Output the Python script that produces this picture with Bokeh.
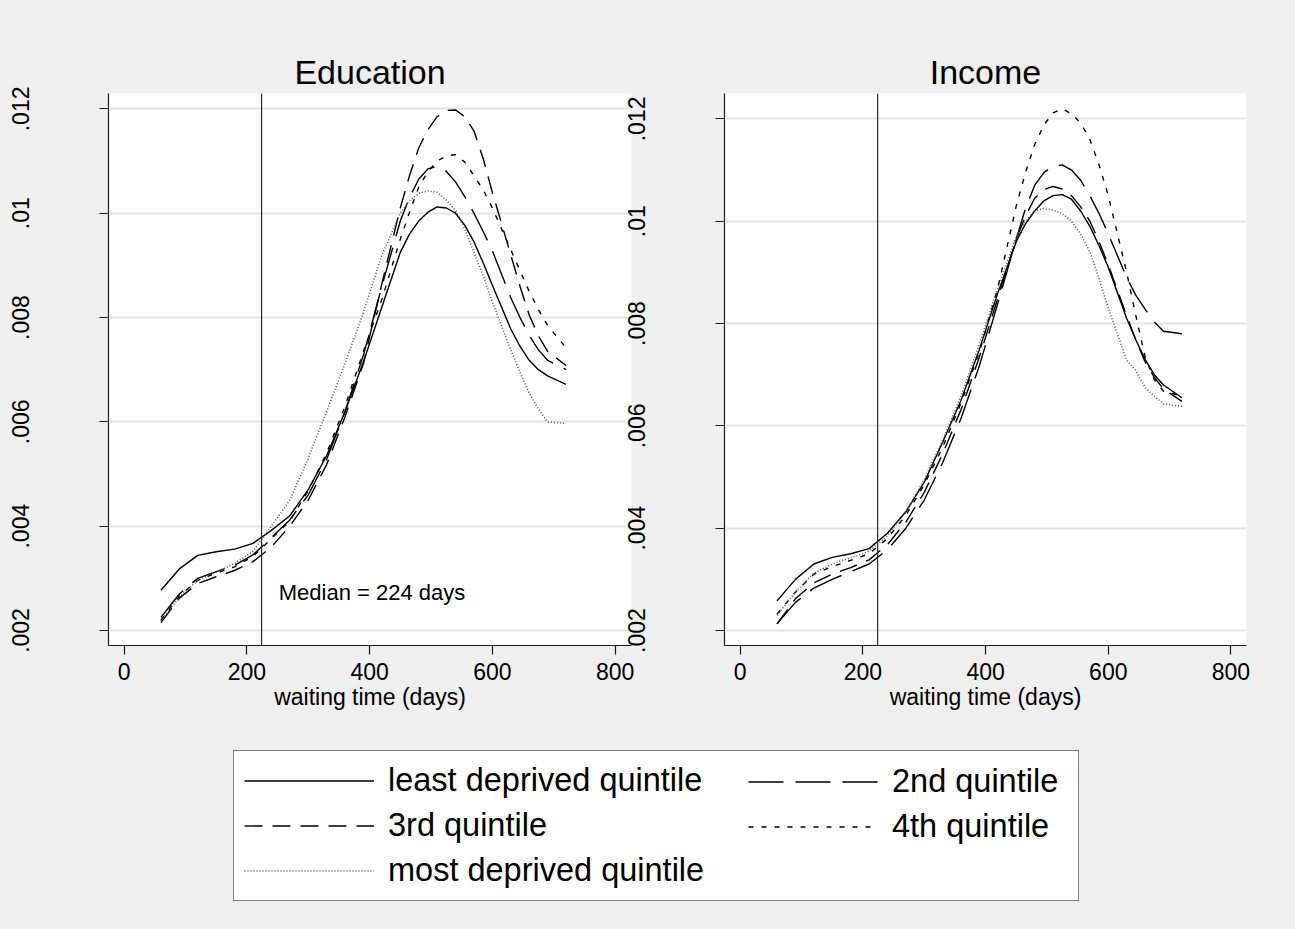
from bokeh.plotting import figure
from bokeh.models import (Range1d, FixedTicker, Span, Label, Legend, LegendItem,
                          CustomJSTickFormatter)
from bokeh.layouts import row, column
from bokeh.embed import file_html
from bokeh.resources import INLINE

# ---------------- data ----------------
days = [60, 90, 120, 150, 180, 210, 240, 270, 300, 330, 360, 390, 420, 450,
        465, 480, 495, 510, 525, 540, 555, 570, 585, 600,
        630, 645, 660, 675, 690, 720]

quintiles = ["least deprived quintile", "2nd quintile", "3rd quintile",
             "4th quintile", "most deprived quintile"]

edu_least = [.00277, .00318, .00344, .00351, .00356, .00367, .00392, .00420, .00470, .00535, .00620, .00715, .00820, .00925,
             .00960, .00985, .01002, .01012, .01010, .01000, .00977, .00945, .00905, .00862,
             .00778, .00745, .00718, .00700, .00688, .00672]
edu_2nd = [.00225, .00270, .00300, .00313, .00325, .00345, .00378, .00412, .00460, .00528, .00620, .00728, .00860, .00985,
           .01030, .01065, .01085, .01090, .01080, .01060, .01032, .01000, .00965, .00928,
           .00838, .00800, .00766, .00738, .00718, .00700]
edu_3rd = [.00215, .00262, .00290, .00303, .00315, .00332, .00360, .00400, .00450, .00518, .00610, .00712, .00865, .01010,
           .01072, .01125, .01160, .01185, .01197, .01198, .01185, .01158, .01105, .01040,
           .00920, .00860, .00805, .00765, .00735, .00708]
edu_4th = [.00220, .00266, .00296, .00310, .00322, .00342, .00376, .00410, .00468, .00540, .00630, .00735, .00835, .00950,
           .01002, .01050, .01080, .01100, .01110, .01112, .01098, .01072, .01045, .01010,
           .00930, .00890, .00850, .00815, .00785, .00742]
edu_most = [.00218, .00264, .00296, .00312, .00328, .00352, .00400, .00450, .00530, .00620, .00712, .00810, .00920, .01000,
            .01024, .01038, .01043, .01040, .01025, .01005, .00970, .00925, .00880, .00830,
            .00738, .00695, .00655, .00625, .00600, .00597]

inc_least = [.00258, .00300, .00330, .00343, .00350, .00360, .00390, .00432, .00490, .00568, .00650, .00750, .00860, .00960,
             .00995, .01020, .01040, .01050, .01052, .01043, .01020, .00990, .00952, .00910,
             .00810, .00768, .00730, .00700, .00680, .00655]
inc_2nd = [.00213, .00255, .00283, .00300, .00315, .00330, .00358, .00400, .00455, .00528, .00615, .00718, .00840, .00965,
           .01025, .01070, .01095, .01108, .01110, .01100, .01080, .01050, .01015, .00975,
           .00890, .00855, .00828, .00803, .00785, .00780]
inc_3rd = [.00213, .00262, .00293, .00310, .00323, .00338, .00368, .00412, .00470, .00545, .00632, .00735, .00850, .00965,
           .01010, .01045, .01062, .01068, .01063, .01050, .01028, .01000, .00960, .00915,
           .00815, .00768, .00725, .00695, .00672, .00648]
inc_4th = [.00232, .00275, .00310, .00325, .00337, .00350, .00380, .00425, .00485, .00558, .00645, .00745, .00870, .01030,
           .01095, .01150, .01188, .01212, .01220, .01210, .01192, .01160, .01110, .01050,
           .00900, .00815, .00735, .00690, .00668, .00658]
inc_most = [.00230, .00275, .00312, .00330, .00342, .00355, .00385, .00432, .00495, .00572, .00658, .00760, .00870, .00970,
            .01000, .01020, .01025, .01022, .01015, .01000, .00975, .00940, .00888, .00830,
            .00728, .00708, .00675, .00658, .00643, .00638]

education = [edu_least, edu_2nd, edu_3rd, edu_4th, edu_most]
income = [inc_least, inc_2nd, inc_3rd, inc_4th, inc_most]

median_days = 224
median_note = "Median = 224 days"
x_ticks = [0, 200, 400, 600, 800]
y_ticks = [0.002, 0.004, 0.006, 0.008, 0.010, 0.012]
y_tick_labels = [".002", ".004", ".006", ".008", ".01", ".012"]
x_title = "waiting time (days)"

# ---------------- style ----------------
FONT = "Liberation Sans"
BG = "#efefef"
AX = "#1a1a1a"
line_styles = [
    dict(line_color="black", line_width=1.4, line_dash="solid"),
    dict(line_color="black", line_width=1.4, line_dash="35 12"),
    dict(line_color="black", line_width=1.4, line_dash="18 10"),
    dict(line_color="black", line_width=1.4, line_dash="5 8"),
    dict(line_color="#555555", line_width=1.6, line_dash="1 2"),
]

XR1, YR1 = (-25.4, 826.7), (0.001712, 0.012295)
XR2, YR2 = (-25.6, 825.3), (0.001707, 0.012497)


def make_panel(title, series, width, b_left, b_right, xr, yr, note=False, **kw):
    p = figure(width=width, height=730, title=title,
               x_range=Range1d(*xr), y_range=Range1d(*yr),
               output_backend="svg", toolbar_location=None,
               min_border_left=b_left, min_border_right=b_right,
               min_border_top=93, min_border_bottom=85,
               background_fill_color="white", border_fill_color=BG,
               outline_line_color=None, **kw)

    p.title.text_font = FONT
    p.title.text_font_size = "34px"
    p.title.text_font_style = "normal"
    p.title.text_color = "black"
    p.title.align = "center"
    p.title.standoff = 6

    p.xgrid.visible = False
    p.ygrid.ticker = FixedTicker(ticks=y_ticks)
    p.ygrid.grid_line_color = "#e3e3e3"
    p.ygrid.grid_line_width = 2

    for ax in (p.xaxis[0], p.yaxis[0]):
        ax.axis_line_color = AX
        ax.axis_line_width = 1.2
        ax.major_tick_line_color = AX
        ax.major_tick_line_width = 1.2
        ax.major_tick_out = 9
        ax.major_tick_in = 0
        ax.minor_tick_line_color = None

    p.xaxis.ticker = FixedTicker(ticks=x_ticks)
    p.xaxis.major_label_text_font = FONT
    p.xaxis.major_label_text_font_size = "23px"
    p.xaxis.major_label_text_color = "black"
    p.xaxis.major_label_standoff = 8
    p.xaxis.axis_label = x_title
    p.xaxis.axis_label_text_font = FONT
    p.xaxis.axis_label_text_font_size = "23px"
    p.xaxis.axis_label_text_font_style = "normal"
    p.xaxis.axis_label_text_color = "black"
    p.xaxis.axis_label_standoff = 1

    p.yaxis.ticker = FixedTicker(ticks=y_ticks)
    p.yaxis.formatter = CustomJSTickFormatter(args=dict(labels=y_tick_labels),
                                              code="return labels[index]")
    p.yaxis.major_label_orientation = "vertical"
    p.yaxis.major_label_text_font = FONT
    p.yaxis.major_label_text_font_size = "23px"
    p.yaxis.major_label_text_color = "black"
    p.yaxis.major_label_standoff = 70

    p.add_layout(Span(location=median_days, dimension="height",
                      line_color="#2a2a2a", line_width=1.2))

    for vals, st in zip(series, line_styles):
        p.line(days, vals, line_join="round", **st)

    if note:
        p.add_layout(Label(x=252, y=0.00272, text=median_note, text_align="left",
                           text_baseline="alphabetic", text_font=FONT,
                           text_font_size="22px", text_color="black"))
    return p


p1 = make_panel("Education", education, 636, 108, 5, XR1, YR1, note=True)
# the right panel's tick labels sit just beside the left panel, as in the original:
# its transparent margin is allowed to overlap the left panel's edge
p2 = make_panel("Income", income, 679, 108, 49, XR2, YR2, margin=(0, 0, 0, -20))
p2.border_fill_alpha = 0

# ---------------- legend strip ----------------
leg = figure(width=1295, height=199, x_range=Range1d(0, 1), y_range=Range1d(0, 1),
             output_backend="svg", toolbar_location=None, min_border=0,
             x_axis_type=None, y_axis_type=None,
             background_fill_color=BG, border_fill_color=BG, outline_line_color=None)
leg.grid.visible = False
rends = []
for vals, st in zip(education, line_styles):
    r = leg.line(days, vals, **st)
    r.visible = False
    rends.append(r)

common = dict(padding=10, spacing=6, glyph_width=130, glyph_height=39, label_height=39,
              label_standoff=14, label_text_font=FONT, label_text_font_size="32.5px",
              label_text_color="black", label_text_baseline="middle", margin=0,
              click_policy="none", inactive_fill_alpha=0)
legA = Legend(items=[LegendItem(label=quintiles[i], renderers=[rends[i]]) for i in (0, 2, 4)],
              location=(233, 28), label_width=680,
              border_line_color="black", border_line_width=1.5,
              background_fill_color="white", background_fill_alpha=1.0, **common)
legB = Legend(items=[LegendItem(label=quintiles[i], renderers=[rends[i]]) for i in (1, 3)],
              location=(738, 73), label_width=0,
              border_line_alpha=0, background_fill_alpha=0, **common)
leg.add_layout(legA)
leg.add_layout(legB)

layout = column(row(p1, p2), leg)
html = file_html(layout, INLINE, title="waiting time densities")
html = html.replace("</head>", "<style>html, body { background-color: #efefef; }</style>\n</head>", 1)
open("out.html", "w").write(html)
